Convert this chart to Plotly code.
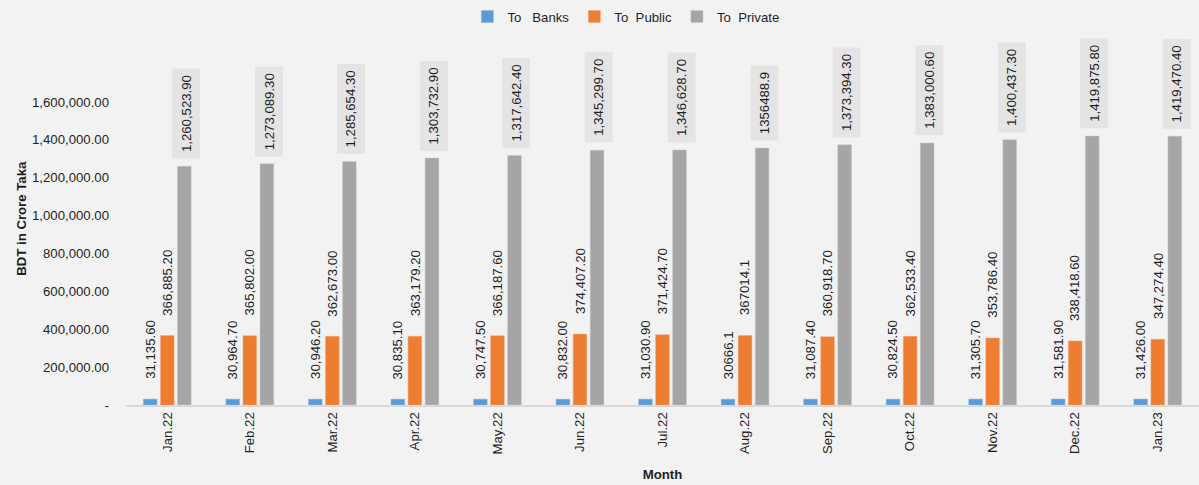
import plotly.graph_objects as go

months = ["Jan.22", "Feb.22", "Mar.22", "Apr.22", "May.22", "Jun.22", "Jul.22",
          "Aug.22", "Sep.22", "Oct.22", "Nov.22", "Dec.22", "Jan.23"]
to_banks = [31135.6, 30964.7, 30946.2, 30835.1, 30747.5, 30832.0, 31030.9,
            30666.1, 31087.4, 30824.5, 31305.7, 31581.9, 31426.0]
to_public = [366885.2, 365802.0, 362673.0, 363179.2, 366187.6, 374407.2, 371424.7,
             367014.1, 360918.7, 362533.4, 353786.4, 338418.6, 347274.4]
to_private = [1260523.9, 1273089.3, 1285654.3, 1303732.9, 1317642.4, 1345299.7, 1346628.7,
              1356488.9, 1373394.3, 1383000.6, 1400437.3, 1419875.8, 1419470.4]
banks_labels = ["31,135.60", "30,964.70", "30,946.20", "30,835.10", "30,747.50", "30,832.00",
                "31,030.90", "30666.1", "31,087.40", "30,824.50", "31,305.70", "31,581.90", "31,426.00"]
public_labels = ["366,885.20", "365,802.00", "362,673.00", "363,179.20", "366,187.60", "374,407.20",
                 "371,424.70", "367014.1", "360,918.70", "362,533.40", "353,786.40", "338,418.60", "347,274.40"]
private_labels = ["1,260,523.90", "1,273,089.30", "1,285,654.30", "1,303,732.90", "1,317,642.40",
                  "1,345,299.70", "1,346,628.70", "1356488.9", "1,373,394.30", "1,383,000.60",
                  "1,400,437.30", "1,419,875.80", "1,419,470.40"]
y_ticks = [0, 200000, 400000, 600000, 800000, 1000000, 1200000, 1400000, 1600000]

W, H = 1199, 485
ML, MR, MT, MB = 126, 0, 25, 80
BARGAP, GROUPGAP = 0.38, 0.2
FONT = "Liberation Sans"
TXT = "#1f1f1f"
FS = 13.2

fig = go.Figure()
fig.add_bar(name="To\u00a0\u00a0\u00a0Banks", x=months, y=to_banks, marker_color="#5B9BD5",
            marker_line=dict(color="#8DB9E3", width=0.5))
fig.add_bar(name="To\u00a0\u00a0Public", x=months, y=to_public, marker_color="#ED7D31",
            marker_line=dict(color="#F4A77A", width=0.5))
fig.add_bar(name="To\u00a0\u00a0Private", x=months, y=to_private, marker_color="#A5A5A5",
            marker_line=dict(color="#C4C4C4", width=0.5))

cat_w = (W - ML - MR) / len(months)
slot = cat_w * (1 - BARGAP) / 3
offsets = [-slot, 0, slot]

anns = []
for series_i, (vals, labs) in enumerate([(to_banks, banks_labels), (to_public, public_labels)]):
    for m, v, t in zip(months, vals, labs):
        anns.append(dict(x=m, y=v, xref="x", yref="y", text=t, showarrow=False,
                         textangle=-90, xanchor="center", yanchor="bottom",
                         xshift=offsets[series_i], yshift=18,
                         font=dict(family=FONT, size=FS, color=TXT)))
for m, v, t in zip(months, to_private, private_labels):
    anns.append(dict(x=m, y=v, xref="x", yref="y", text=t, showarrow=False,
                     textangle=-90, xanchor="center", yanchor="bottom",
                     xshift=offsets[2] + 2, yshift=7, bgcolor="#E4E4E4", borderpad=6,
                     font=dict(family=FONT, size=FS, color=TXT)))

fig.update_layout(
    width=W, height=H,
    margin=dict(l=ML, r=MR, t=MT, b=MB),
    paper_bgcolor="#F2F2F2", plot_bgcolor="#F2F2F2",
    barmode="group", bargap=BARGAP, bargroupgap=GROUPGAP,
    font=dict(family=FONT, size=FS, color=TXT),
    showlegend=True,
    legend=dict(orientation="h", x=0.522, xanchor="center", xref="container",
                y=0.965, yref="container", yanchor="middle",
                font=dict(size=FS), itemwidth=30, tracegroupgap=0),
    annotations=anns,
    xaxis=dict(tickangle=-90, showgrid=False, showline=True, linecolor="#D9D9D9",
               linewidth=2, ticks="", tickfont=dict(size=FS),
               title=dict(text="<b>Month</b>", font=dict(size=FS), standoff=16)),
    yaxis=dict(range=[0, 1966800], tickvals=y_ticks,
               ticktext=["-" if v == 0 else f"{v:,.2f}" for v in y_ticks],
               showgrid=False, zeroline=False, showline=False, ticks="",
               ticklabelstandoff=16, tickfont=dict(size=FS),
               title=dict(text="<b>BDT in Crore Taka</b>", font=dict(size=FS), standoff=2)),
)
fig.write_html("out.html")
